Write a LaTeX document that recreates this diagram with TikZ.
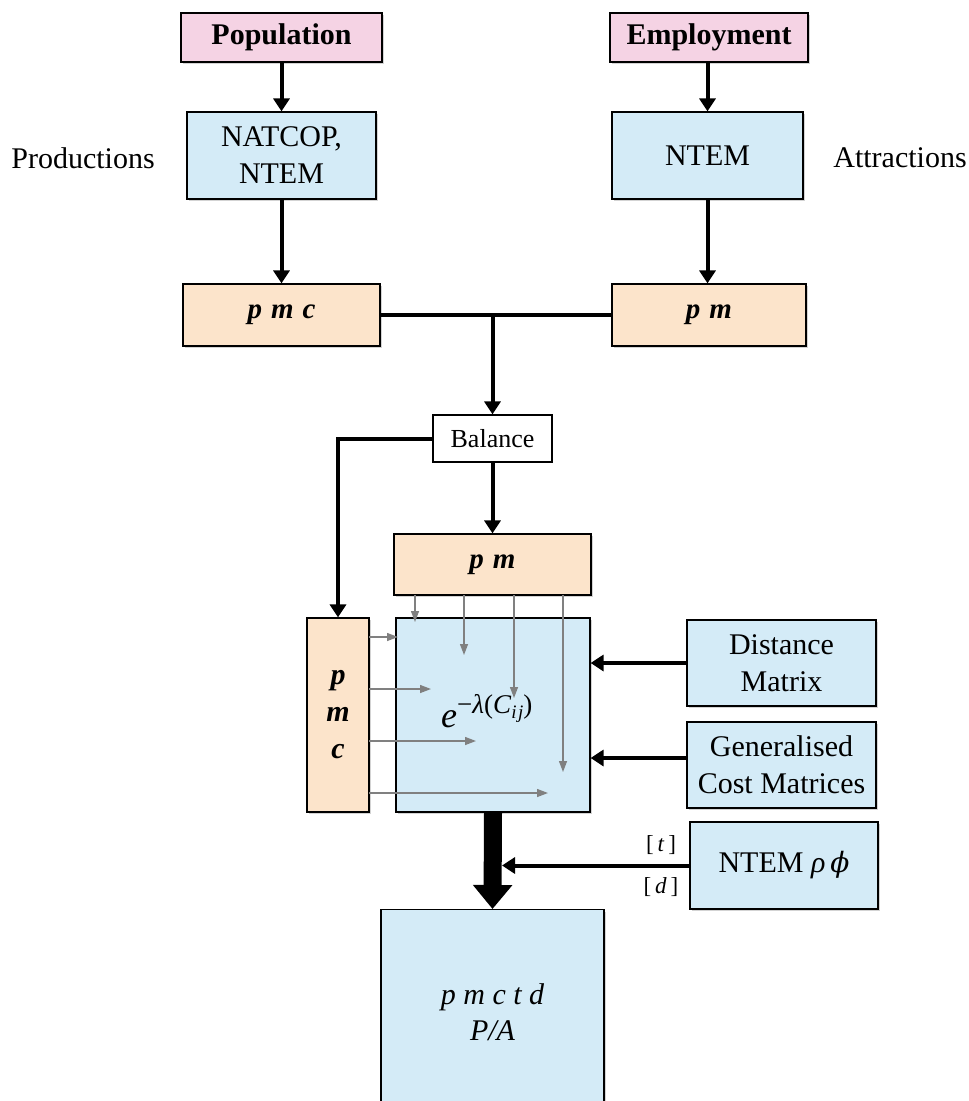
\documentclass[tikz,border=0pt]{standalone}
\usepackage{fontspec}
\setmainfont{Liberation Serif}
\newfontfamily\dvserif{DejaVu Serif}
\usetikzlibrary{arrows.meta,shadows}
\definecolor{pinkf}{HTML}{F5D3E4}
\definecolor{orangef}{HTML}{FCE4CB}
\definecolor{bluef}{HTML}{D4EBF7}
\tikzset{
  box/.style={draw=black, line width=1.2pt, inner sep=0pt, align=center,
     font=\fontsize{30}{37}\selectfont,
     drop shadow={opacity=0.35, shadow xshift=2pt, shadow yshift=-2pt}},
  pinkbox/.style={box, fill=pinkf, font=\fontsize{30}{34}\selectfont\bfseries},
  orangebox/.style={box, fill=orangef, font=\fontsize{29}{32}\selectfont\bfseries\itshape},
  bluebox/.style={box, fill=bluef},
  plainbox/.style={draw=black, line width=1.2pt, fill=white, inner sep=0pt, font=\fontsize{26}{28}\selectfont},
  arr/.style={line width=4pt, -{Triangle[width=16pt,length=13pt]}},
  ln/.style={line width=4pt},
  garr/.style={draw=gray, line width=1.3pt, -{Triangle[width=8pt,length=11pt]}},
  lbl/.style={font=\fontsize{30}{32}\selectfont},
  small/.style={font=\fontsize{23}{24}\selectfont}
}
\begin{document}
\begin{tikzpicture}[x=1pt,y=-1pt]
\useasboundingbox (0,0) rectangle (969,1101);
% top
\node[pinkbox, minimum width=201pt, minimum height=49pt] (pop) at (281.5,37.5) {Population};
\node[pinkbox, minimum width=198pt, minimum height=49pt] (emp) at (709,37.5) {Employment};
\node[bluebox, minimum width=189pt, minimum height=87pt] (nat) at (281.5,155.5) {NATCOP,\\NTEM};
\node[bluebox, minimum width=191pt, minimum height=87pt] (ntem) at (707.5,155.5) {NTEM};
\node[lbl] (prod) at (83,158) {Productions};
\node[lbl] (attr) at (900,158) {Attractions};
\node[orangebox, minimum width=197pt, minimum height=62pt] (pmc) at (281.5,315) {p\hspace{9pt}m\hspace{9pt}c};
\node[orangebox, minimum width=194pt, minimum height=62pt] (pmr) at (709,315) {p\hspace{9pt}m};
\node[plainbox, minimum width=119pt, minimum height=47pt] (bal) at (492.5,438.5) {Balance};
\node[orangebox, minimum width=197pt, minimum height=61pt] (pmm) at (492.5,564.5) {p\hspace{9pt}m};
\node[orangebox, minimum width=62pt, minimum height=194pt, font=\fontsize{30}{37}\selectfont\bfseries\itshape] (pmcv) at (338,715) {p\\m\\c};
\node[bluebox, minimum width=194pt, minimum height=194pt] (big) at (493,715) {};
\node[font=\fontsize{36}{38}\selectfont, anchor=base west, inner sep=0pt] (form) at (441,727)
  {\textit{e}\raisebox{14pt}{\fontsize{27}{28}\selectfont −\textit{λ}(\textit{C}\raisebox{-5pt}{\fontsize{19}{20}\selectfont\itshape i\kern1.5pt j})}};
\node[bluebox, minimum width=189pt, minimum height=86pt] (dist) at (781.5,663) {Distance\\Matrix};
\node[bluebox, minimum width=189pt, minimum height=86pt] (gen) at (781.5,765) {Generalised\\Cost Matrices};
\node[bluebox, minimum width=188pt, minimum height=87pt] (rho) at (784,865.5) {NTEM \textit{ρ}\,{\dvserif\itshape\fontsize{28}{30}\selectfont ϕ}};
\node[bluebox, minimum width=223pt, minimum height=200pt, anchor=north] (fin) at (492.5,909) {};
\node[font=\fontsize{30}{36}\selectfont\itshape, align=center] (fintext) at (492.5,1012) {p m c t d\\P/A};
\node[small] (tl) at (661,845) {[\,\textit{t}\,]};
\node[small] (dl) at (661,887) {[\,\textit{d}\,]};
% connectors
\draw[arr] (pop.south) -- (nat.north);
\draw[arr] (emp.south -| ntem.north) -- (ntem.north);
\draw[arr] (nat.south) -- (pmc.north);
\draw[arr] (ntem.south) -- (ntem.south |- pmr.north);
\coordinate (j) at (492.5,315);
\draw[ln] (pmc.east) -- (pmr.west);
\draw[arr] (j) -- (bal.north);
\draw[arr] (bal.west) -| (pmcv.north);
\draw[arr] (bal.south) -- (pmm.north);
\draw[arr] (dist.west) -- (big.east |- dist.west);
\draw[arr] (gen.west |- 0,758) -- (big.east |- 0,758);
\draw[line width=18pt, -{Triangle[width=38pt,length=24pt]}] (big.south) -- (fin.north);
\coordinate (tk) at (502,865.5);
\draw[arr] (rho.west) -- (tk);
% gray arrows
\foreach \x/\y in {415/622, 464/655, 514/698, 563/772}{
  \draw[garr] (\x,595) -- (\x,\y);
}
\foreach \y/\x in {637/398, 689/431, 741/476, 793/548}{
  \draw[garr] (369,\y) -- (\x,\y);
}
\end{tikzpicture}
\end{document}
